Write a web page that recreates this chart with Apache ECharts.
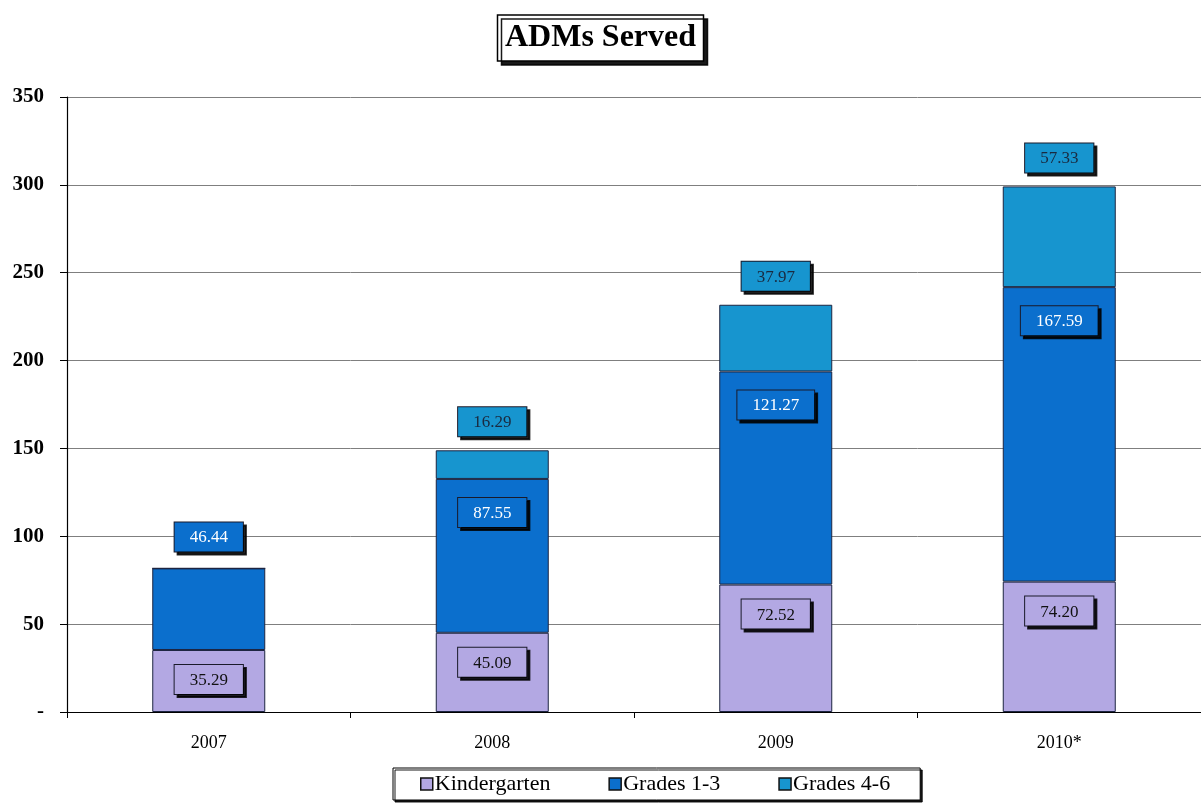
<!DOCTYPE html>
<html>
<head>
<meta charset="utf-8">
<script src="https://cdn.jsdelivr.net/npm/echarts@6/dist/echarts.min.js"></script>
<style>
  html, body { margin: 0; padding: 0; background: #fff; }
  #chart { width: 1201px; height: 804px; }
</style>
</head>
<body>
<div id="chart"></div>
<script>
// ADMs served by grade band, per school year
const years = ['2007', '2008', '2009', '2010*'];
const kindergarten = [35.29, 45.09, 72.52, 74.20];
const grades1to3 = [46.44, 87.55, 121.27, 167.59];
const grades4to6 = [0, 16.29, 37.97, 57.33];
const yTicks = { min: 0, max: 350, step: 50 };

const SERIF = '"Liberation Serif", "DejaVu Serif", serif';
const colors = { k: '#b3a8e3', g13: '#0b6fcd', g46: '#1795cf' };

function boxLabel(bg, textColor, position, distance) {
  return {
    show: true,
    position: position,
    distance: distance,
    formatter: p => Number(p.value).toFixed(2),
    fontFamily: SERIF,
    fontSize: 17,
    color: textColor,
    backgroundColor: bg,
    borderColor: '#1a1a2a',
    borderWidth: 1,
    padding: [7, 15, 5, 15],
    shadowColor: 'rgba(0,0,0,0.85)',
    shadowOffsetX: 3,
    shadowOffsetY: 3,
    shadowBlur: 0
  };
}

const chart = echarts.init(document.getElementById('chart'), null, { renderer: 'canvas' });

chart.setOption({
  backgroundColor: '#ffffff',
  animation: false,
  title: {
    text: 'ADMs Served',
    left: 'center',
    top: 15,
    padding: [7, 8, 7, 8],
    borderColor: '#000',
    borderWidth: 1.5,
    backgroundColor: '#fff',
    shadowColor: 'rgba(0,0,0,0.9)',
    shadowOffsetX: 4,
    shadowOffsetY: 4,
    textStyle: { fontFamily: SERIF, fontSize: 32, fontWeight: 'bold', color: '#000' }
  },
  legend: {
    bottom: 4,
    left: 393,
    itemWidth: 12,
    itemHeight: 12,
    itemGap: 58,
    padding: [5, 30, 5, 27],
    borderColor: '#000',
    borderWidth: 1,
    backgroundColor: '#fff',
    shadowColor: 'rgba(0,0,0,0.9)',
    shadowOffsetX: 2,
    shadowOffsetY: 2,
    icon: 'rect',
    itemStyle: { borderColor: '#111', borderWidth: 1.5 },
    textStyle: { fontFamily: SERIF, fontSize: 22, color: '#000', padding: [0, 0, 0, -3] },
    data: ['Kindergarten', 'Grades 1-3', 'Grades 4-6']
  },
  grid: { left: 67, right: 0, top: 97, bottom: 92 },
  xAxis: {
    type: 'category',
    data: years,
    axisLine: { lineStyle: { color: '#000', width: 1.2 } },
    axisTick: { show: true, length: 6, lineStyle: { color: '#000' } },
    axisLabel: { fontFamily: SERIF, fontSize: 18, color: '#000', margin: 22 }
  },
  yAxis: {
    type: 'value',
    min: yTicks.min,
    max: yTicks.max,
    interval: yTicks.step,
    axisLine: { show: true, lineStyle: { color: '#000', width: 1.2 } },
    axisTick: { show: true, length: 7, lineStyle: { color: '#000' } },
    axisLabel: {
      fontFamily: SERIF, fontSize: 21, fontWeight: 'bold', color: '#000', margin: 23,
      formatter: v => (v === 0 ? '-' : String(v))
    },
    splitLine: { lineStyle: { color: '#7f7f7f', width: 1 } }
  },
  series: [
    {
      name: 'Kindergarten',
      type: 'bar',
      stack: 'adm',
      barWidth: 113,
      itemStyle: { color: colors.k, borderColor: '#1c2440', borderWidth: 1 },
      label: boxLabel(colors.k, '#111', 'insideTop', 15),
      data: kindergarten
    },
    {
      name: 'Grades 1-3',
      type: 'bar',
      stack: 'adm',
      barWidth: 113,
      itemStyle: { color: colors.g13, borderColor: '#1c2440', borderWidth: 1 },
      label: boxLabel(colors.g13, '#ffffff', 'insideTop', 19),
      data: grades1to3.map((v, i) => (grades4to6[i] === 0
        ? { value: v, label: { position: 'top', distance: 17 } }
        : v))
    },
    {
      name: 'Grades 4-6',
      type: 'bar',
      stack: 'adm',
      barWidth: 113,
      itemStyle: { color: colors.g46, borderColor: '#1c2440', borderWidth: 1 },
      label: boxLabel(colors.g46, '#1a2a40', 'top', 14),
      data: grades4to6.map(v => (v === 0 ? { value: v, label: { show: false } } : v))
    }
  ]
});
</script>
</body>
</html>
